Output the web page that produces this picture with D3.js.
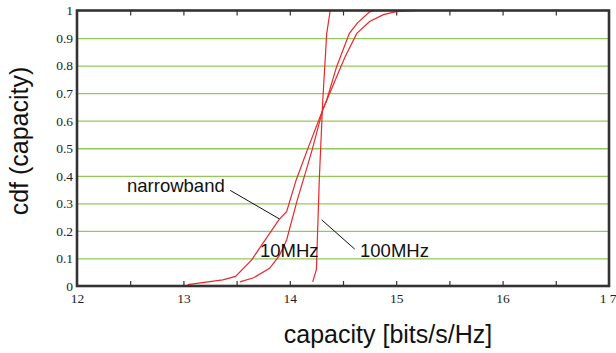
<!DOCTYPE html>
<html>
<head>
<meta charset="utf-8">
<script src="https://cdn.jsdelivr.net/npm/d3@7"></script>
<style>
  body { margin: 0; background: #fff; }
  .lbl { font-family: "Liberation Sans", Arial, sans-serif; fill: #111; }
</style>
</head>
<body>
<script>
// cdf of capacity
var xTicks = [12, 13, 14, 15, 16, 17];
var xTickLabels = ['12', '13', '14', '15', '16', '1 7'];
var xMinorTicks = [12.5, 13, 13.5, 14, 14.5, 15, 15.5, 16, 16.5];
var yTicks = [0, 0.1, 0.2, 0.3, 0.4, 0.5, 0.6, 0.7, 0.8, 0.9, 1];
var yTickLabels = ['0', '0.1', '0.2', '0.3', '0.4', '0.5', '0.6', '0.7', '0.8', '0.9', '1'];

var narrowX = [13.04, 13.37, 13.49, 13.64, 13.90, 13.97, 14.06, 14.165, 14.31, 14.48, 14.52, 14.63, 14.75, 14.88, 15.0, 15.2];
var narrowY = [0.005, 0.022, 0.035, 0.094, 0.242, 0.27, 0.385, 0.494, 0.64, 0.796, 0.832, 0.917, 0.96, 0.985, 0.996, 1.0];
var mhz10X = [13.53, 13.66, 13.81, 13.90, 13.97, 14.07, 14.127, 14.21, 14.31, 14.347, 14.44, 14.56, 14.634, 14.75, 14.80];
var mhz10Y = [0.015, 0.03, 0.064, 0.109, 0.167, 0.312, 0.385, 0.494, 0.64, 0.675, 0.796, 0.917, 0.954, 0.995, 1.0];
var mhz100X = [14.215, 14.25, 14.277, 14.31, 14.347, 14.38];
var mhz100Y = [0.015, 0.06, 0.385, 0.675, 0.917, 1.0];

var W = 616, H = 353;
var margin = {top: 10.5, right: 7, bottom: 67, left: 77};
var w = W - margin.left - margin.right;
var h = H - margin.top - margin.bottom;

var svg = d3.select('body').append('svg')
    .attr('width', W)
    .attr('height', H);

var g = svg.append('g')
    .attr('transform', 'translate(' + margin.left + ',' + margin.top + ')');

var x = d3.scaleLinear().domain([12, 17]).range([0, w]);
var y = d3.scaleLinear().domain([0, 1]).range([h, 0]);

var serif = '"Liberation Serif", "Times New Roman", serif';

// grid lines
g.append('g')
    .call(d3.axisLeft(y).tickValues(yTicks.slice(1, -1)).tickSize(-w).tickFormat(''))
    .call(function (s) { s.select('.domain').remove(); })
    .selectAll('line')
    .attr('stroke', '#93c95a')
    .attr('stroke-width', 1.3);

// y labels
g.append('g')
    .call(d3.axisLeft(y).tickValues(yTicks).tickSize(0).tickPadding(4)
      .tickFormat(function (d, i) { return yTickLabels[i]; }))
    .call(function (s) { s.select('.domain').remove(); })
    .attr('font-family', serif)
    .attr('font-size', 13.5)
    .selectAll('text').attr('fill', '#222');

// x labels
var xl = g.append('g')
    .attr('transform', 'translate(0,' + h + ')')
    .call(d3.axisBottom(x).tickValues(xTicks).tickSize(0).tickPadding(7)
      .tickFormat(function (d, i) { return xTickLabels[i]; }))
    .call(function (s) { s.select('.domain').remove(); })
    .attr('font-family', serif)
    .attr('font-size', 13.5);
xl.selectAll('text').attr('fill', '#222');
xl.selectAll('.tick').filter(function (d) { return d === 17; })
    .select('text').attr('text-anchor', 'end').attr('x', 7);

// inner tick marks, top and bottom
g.append('g')
    .attr('transform', 'translate(0,' + h + ')')
    .call(d3.axisBottom(x).tickValues(xMinorTicks).tickSize(-5).tickFormat(''))
    .call(function (s) { s.select('.domain').remove(); })
    .selectAll('line').attr('stroke', '#333').attr('stroke-width', 1.2);
g.append('g')
    .call(d3.axisTop(x).tickValues(xMinorTicks).tickSize(-5).tickFormat(''))
    .call(function (s) { s.select('.domain').remove(); })
    .selectAll('line').attr('stroke', '#333').attr('stroke-width', 1.2);

// curves
var line = d3.line()
    .x(function (d) { return x(d[0]); })
    .y(function (d) { return y(d[1]); });

[[narrowX, narrowY], [mhz10X, mhz10Y], [mhz100X, mhz100Y]].forEach(function (s) {
  g.append('path')
      .datum(d3.zip(s[0], s[1]))
      .attr('d', line)
      .attr('fill', 'none')
      .attr('stroke', '#e8282c')
      .attr('stroke-width', 1.2);
});

// frame
g.append('rect')
    .attr('width', w)
    .attr('height', h)
    .attr('fill', 'none')
    .attr('stroke', '#333')
    .attr('stroke-width', 2.6);

// annotations
g.append('text').attr('class', 'lbl').attr('x', x(12.47)).attr('y', y(0.342))
    .style('font-size', '18.5px').text('narrowband');
g.append('line').attr('x1', x(13.44)).attr('y1', y(0.347)).attr('x2', x(13.90)).attr('y2', y(0.244))
    .attr('stroke', '#111').attr('stroke-width', 1);
g.append('text').attr('class', 'lbl').attr('x', x(13.72)).attr('y', y(0.105))
    .style('font-size', '18.5px').text('10MHz');
g.append('text').attr('class', 'lbl').attr('x', x(14.66)).attr('y', y(0.105))
    .style('font-size', '18.5px').text('100MHz');
g.append('line').attr('x1', x(14.3)).attr('y1', y(0.24)).attr('x2', x(14.61)).attr('y2', y(0.134))
    .attr('stroke', '#111').attr('stroke-width', 1);

// axis titles
svg.append('text').attr('class', 'lbl')
    .attr('transform', 'translate(28,141) rotate(-90)')
    .attr('text-anchor', 'middle')
    .style('font-size', '25px')
    .text('cdf (capacity)');
svg.append('text').attr('class', 'lbl')
    .attr('x', 388).attr('y', 343)
    .attr('text-anchor', 'middle')
    .style('font-size', '25px')
    .text('capacity [bits/s/Hz]');
</script>
</body>
</html>
